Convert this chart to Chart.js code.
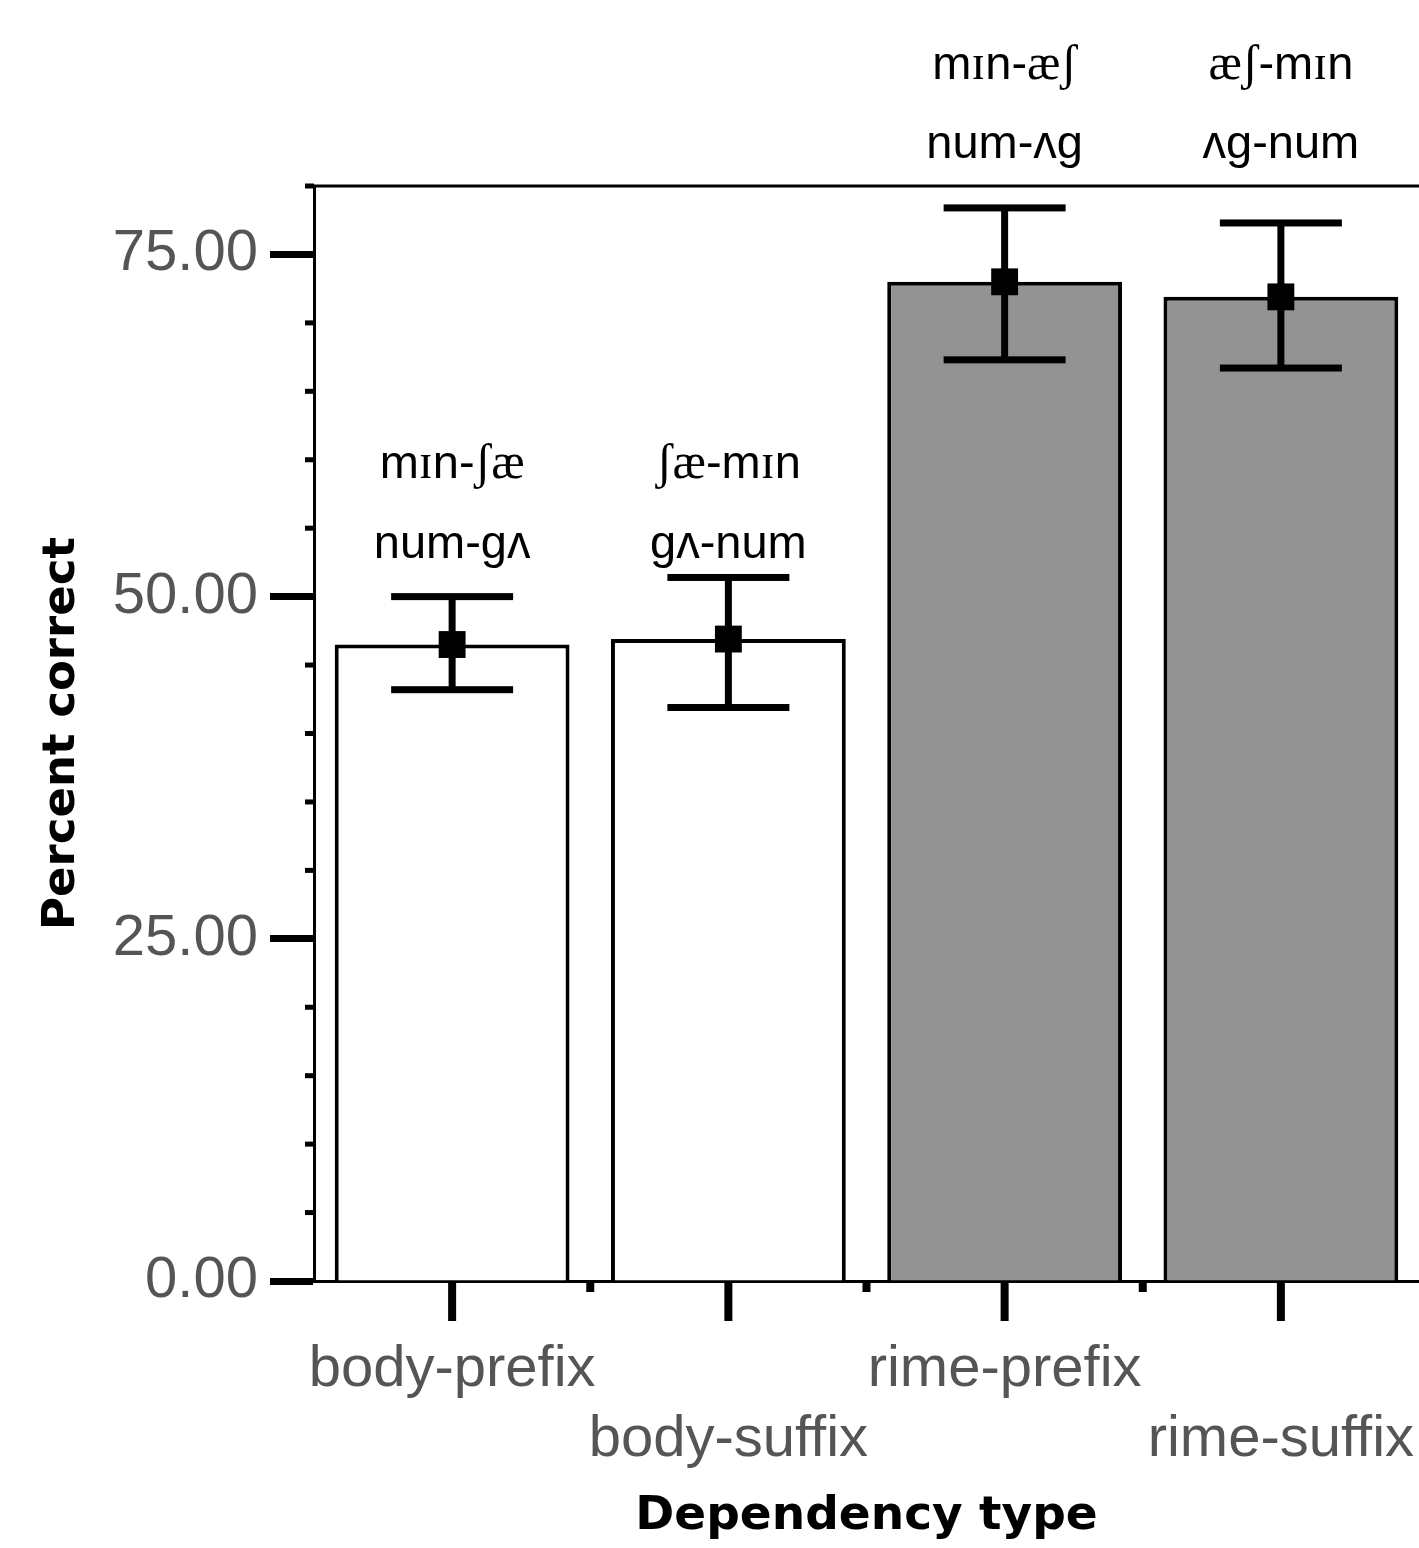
<!DOCTYPE html>
<html>
<head>
<meta charset="utf-8">
<script src="https://cdn.jsdelivr.net/npm/chart.js@4.4.0/dist/chart.umd.min.js"></script>
<style>
  html, body { margin: 0; padding: 0; background: #fff; overflow: hidden; }
  canvas { display: block; }
</style>
</head>
<body>
<canvas id="chart" width="1419" height="1548"></canvas>
<script>
const categories = ['body-prefix', 'body-suffix', 'rime-prefix', 'rime-suffix']
const means = [46.5, 46.9, 73.0, 71.9]
const upper = [50.0, 51.4, 78.4, 77.3]
const lower = [43.2, 41.9, 67.3, 66.7]
const wordsTop = ['mɪn-ʃæ', 'ʃæ-mɪn', 'mɪn-æʃ', 'æʃ-mɪn']
const wordsBottom = ['num-gʌ', 'gʌ-num', 'num-ʌg', 'ʌg-num']

const SANS = '"Liberation Sans", Arial, sans-serif'
const SERIF_CHARS = 'ɪʃæ'

// text with the IPA letters set in a serif face, like the original
function drawMixed (ctx, text, cx, cy) {
  const runs = []
  for (const ch of text) {
    const serif = SERIF_CHARS.includes(ch)
    const font = serif ? '50px "Liberation Serif", serif' : '47px ' + SANS
    if (runs.length && runs[runs.length - 1].font === font) runs[runs.length - 1].t += ch
    else runs.push({ font, t: ch })
  }
  let total = 0
  runs.forEach(r => { ctx.font = r.font; r.w = ctx.measureText(r.t).width; total += r.w })
  let x = cx - total / 2
  ctx.textAlign = 'left'
  ctx.textBaseline = 'middle'
  runs.forEach(r => { ctx.font = r.font; ctx.fillText(r.t, x, cy); x += r.w })
}

const errorBars = {
  id: 'errorBars',
  afterDatasetDraw (chart, args) {
    if (args.index !== 0) return
    const { ctx, scales: { x, y } } = chart
    ctx.save()
    ctx.fillStyle = '#000'
    means.forEach((m, i) => {
      const px = x.getPixelForValue(i)
      const yu = y.getPixelForValue(upper[i])
      const yl = y.getPixelForValue(lower[i])
      ctx.fillRect(px - 3.5, yu, 7, yl - yu)
      ctx.fillRect(px - 61, yu - 3.5, 122, 7)
      ctx.fillRect(px - 61, yl - 3.5, 122, 7)
    })
    ctx.restore()
  }
}

const frame = {
  id: 'frame',
  afterDraw (chart, args, opts) {
    const { ctx, chartArea, scales: { x, y } } = chart
    ctx.save()
    ctx.fillStyle = '#000'
    // top frame line
    ctx.fillRect(chartArea.left - 9, chartArea.top - 1.5, chartArea.right - chartArea.left + 9, 3)
    // minor y ticks
    for (let v = 0; v <= y.max; v += 5) {
      if (v % 25 === 0) continue
      const py = y.getPixelForValue(v)
      ctx.fillRect(chartArea.left - 9, py - 2.5, 9, 5)
    }
    // x ticks: long at categories, short between them
    const n = categories.length
    for (let i = 0; i < n; i++) {
      const px = x.getPixelForValue(i)
      ctx.fillRect(px - 4, chartArea.bottom, 8, 40)
      if (i < n - 1) {
        const mid = (px + x.getPixelForValue(i + 1)) / 2
        ctx.fillRect(mid - 4, chartArea.bottom, 8, 11)
      }
    }
    // word annotations
    categories.forEach((c, i) => {
      const px = x.getPixelForValue(i)
      const lv = opts.levels[i]
      drawMixed(ctx, wordsTop[i], px, y.getPixelForValue(lv[0]))
      drawMixed(ctx, wordsBottom[i], px, y.getPixelForValue(lv[1]))
    })
    ctx.restore()
  }
}

const tickFont = { family: SANS, size: 58, lineHeight: 1.207 }
const boldFamily = '"DejaVu Sans", sans-serif'

new Chart(document.getElementById('chart').getContext('2d'), {
  type: 'bar',
  data: {
    labels: categories,
    datasets: [
      {
        data: means,
        backgroundColor: ['#ffffff', '#ffffff', '#939393', '#939393'],
        borderColor: '#000',
        borderWidth: 4,
        categoryPercentage: 1,
        barPercentage: 0.85,
        order: 2
      },
      {
        type: 'line',
        data: means,
        showLine: false,
        pointStyle: 'rect',
        pointRadius: 19,
        pointBorderWidth: 0,
        pointBackgroundColor: '#000',
        order: 1
      }
    ]
  },
  options: {
    responsive: false,
    devicePixelRatio: 1,
    animation: false,
    layout: { autoPadding: false, padding: { top: 186, left: 0, right: 0, bottom: 0 } },
    plugins: {
      legend: { display: false },
      tooltip: { enabled: false },
      frame: { levels: [[59.6, 53.8], [59.6, 53.8], [88.8, 83.0], [88.8, 83.0]] }
    },
    scales: {
      x: {
        offset: true,
        grid: { display: false, drawTicks: false },
        border: { display: true, color: '#000', width: 3 },
        ticks: {
          autoSkip: false,
          maxRotation: 0,
          minRotation: 0,
          padding: 54,
          color: '#555',
          font: tickFont,
          callback: (v, i) => i % 2 ? ['', categories[i]] : categories[i]
        },
        title: {
          display: true,
          text: 'Dependency type',
          color: '#000',
          font: { family: boldFamily, size: 47, weight: 'bold', lineHeight: 1.2 },
          padding: { top: 0, bottom: 3 }
        },
        afterFit: (s) => { s.height = 267; s.paddingLeft = 0; s.paddingRight = 0 }
      },
      y: {
        min: 0,
        max: 80,
        ticks: {
          stepSize: 5,
          autoSkip: false,
          padding: 12,
          color: '#555',
          font: tickFont,
          callback: (v) => v % 25 === 0 ? v.toFixed(2) : ''
        },
        grid: {
          drawOnChartArea: false,
          drawTicks: true,
          tickLength: 44,
          tickWidth: (c) => (c.tick && c.tick.value % 25 === 0) ? 7 : 0,
          tickColor: (c) => (c.tick && c.tick.value % 25 === 0) ? '#000' : 'rgba(0,0,0,0)'
        },
        border: { color: '#000', width: 3 },
        title: {
          display: true,
          text: 'Percent correct',
          color: '#000',
          font: { family: boldFamily, size: 45, weight: 'bold', lineHeight: 1.2 },
          padding: { top: 35, bottom: 0 }
        },
        afterFit: (s) => { s.width = 314; s.paddingTop = 0; s.paddingBottom = 0 }
      }
    }
  },
  plugins: [errorBars, frame]
})
</script>
</body>
</html>
